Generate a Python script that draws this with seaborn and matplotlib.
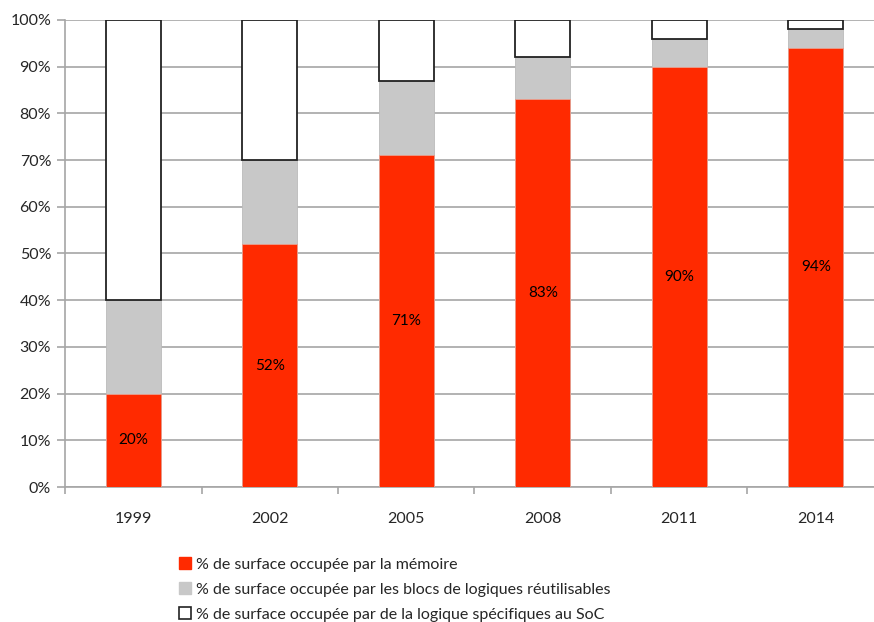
import matplotlib
matplotlib.use("Agg")
import matplotlib.pyplot as plt
from matplotlib.patches import Patch
from matplotlib.ticker import FixedLocator, FuncFormatter
import numpy as np
import pandas as pd
import seaborn as sns

years = ["1999", "2002", "2005", "2008", "2011", "2014"]
memoire = [20, 52, 71, 83, 90, 94]
reutilisable = [20, 18, 16, 9, 6, 4]
specifique = [60, 30, 13, 8, 4, 2]

series_labels = [
    "% de surface occupée par la mémoire",
    "% de surface occupée par les blocs de logiques réutilisables",
    "% de surface occupée par de la logique spécifiques au SoC",
]

RED = "#FF2A00"
GREY = "#C8C8C8"
GRID = "#A6A6A6"

sns.set_theme(style="white")
plt.rcParams["font.family"] = ["Lato", "DejaVu Sans"]

df = pd.DataFrame({
    "annee": years,
    "memoire": memoire,
    "reutilisable": reutilisable,
    "specifique": specifique,
})
df["cumul_gris"] = df["memoire"] + df["reutilisable"]

fig = plt.figure(figsize=(8.74, 6.22), dpi=100)
ax = fig.add_axes([0.0744, 0.217, 0.937, 0.751])

# grey (reusable logic) stacked on top of memory: draw cumulative height first
sns.barplot(data=df, x="annee", y="cumul_gris", color=GREY, width=0.40,
            saturation=1, edgecolor="#BBBBBB", linewidth=0.6, ax=ax, zorder=3)
sns.barplot(data=df, x="annee", y="memoire", color=RED, width=0.40,
            saturation=1, edgecolor="#E8A090", linewidth=0.6, ax=ax, zorder=4)
mem_container = ax.containers[-1]

# white segment for SoC-specific logic on top of the stack
xpos = np.arange(len(years))
ax.bar(xpos, df["specifique"], bottom=df["cumul_gris"], width=0.40,
       color="white", edgecolor="#222222", linewidth=1.3, zorder=5)

ax.bar_label(mem_container, labels=[f"{v}%" for v in memoire],
             label_type="center", fontsize=11, color="black", zorder=6)

ax.set_ylim(0, 100)
ax.set_xlim(-0.5, len(years) - 0.5)
ax.set_yticks(np.arange(0, 101, 10))
ax.yaxis.set_major_formatter(FuncFormatter(lambda v, p: f"{int(v)}%"))
ax.yaxis.grid(True, color=GRID, linewidth=1.2, zorder=0)
ax.set_axisbelow(True)

ax.set_xlabel("")
ax.set_ylabel("")

for side in ["top", "right"]:
    ax.spines[side].set_visible(False)
for side in ["left", "bottom"]:
    ax.spines[side].set_color(GRID)
    ax.spines[side].set_linewidth(1.2)

ax.tick_params(axis="y", which="major", length=6, width=1.2, color=GRID,
               labelsize=11.5, pad=4, left=True)
ax.tick_params(axis="x", which="major", length=0, labelsize=11.5, pad=18)
ax.xaxis.set_minor_locator(FixedLocator(np.arange(-0.5, len(years), 1.0)))
ax.tick_params(axis="x", which="minor", length=5, width=1.2, color=GRID,
               bottom=True, direction="out")

handles = [
    Patch(facecolor=RED, edgecolor=RED),
    Patch(facecolor=GREY, edgecolor=GREY),
    Patch(facecolor="white", edgecolor="#222222", linewidth=1.2),
]
fig.legend(handles, series_labels, loc="upper left",
           bbox_to_anchor=(0.205, 0.104), frameon=False, fontsize=11.5,
           handlelength=0.75, handleheight=0.75, handletextpad=0.3,
           labelspacing=0.66, borderaxespad=0, borderpad=0)

fig.savefig("out.png", dpi=100)
